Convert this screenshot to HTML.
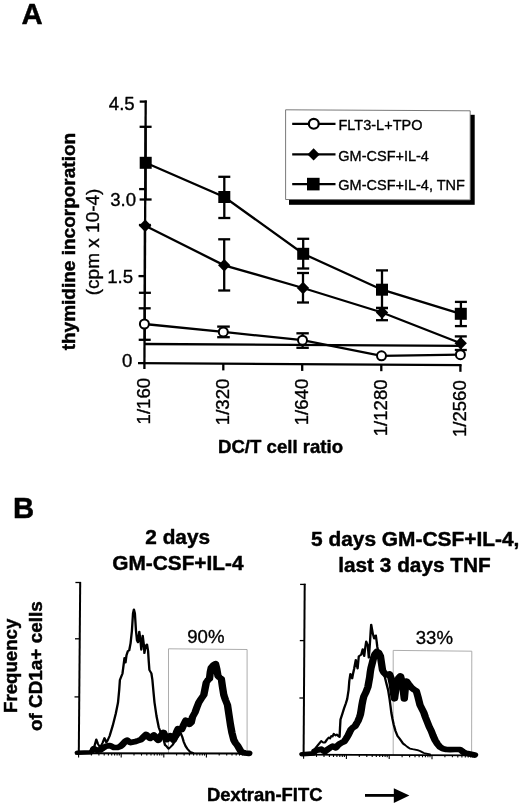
<!DOCTYPE html>
<html lang="en"><head><meta charset="utf-8"><title>Figure</title>
<style>html,body{margin:0;padding:0;background:#fff;}body{width:520px;height:805px;overflow:hidden;}svg{display:block;filter:blur(0.35px);}text{font-family:"Liberation Sans", Arial, Helvetica, sans-serif;fill:#000;stroke:#000;stroke-width:0.35px;stroke-linejoin:round;}.b{font-weight:bold;stroke-width:0.45px;}</style></head><body>
<svg width="520" height="805" viewBox="0 0 520 805">
<rect width="520" height="805" fill="#fff"/>
<text class="b" x="21.5" y="24.3" font-size="29.3">A</text>
<g stroke="#000" stroke-width="2.3" fill="none" stroke-linecap="butt">
<line x1="145.7" y1="100.5" x2="144.4" y2="369"/>
<line x1="138" y1="363.2" x2="461.6" y2="365.2"/>
<line x1="139.7" y1="101.6" x2="146.7" y2="101.6"/>
<line x1="139.1" y1="189.1" x2="146.1" y2="189.1"/>
<line x1="138.5" y1="276.1" x2="145.5" y2="276.1"/>
<line x1="223.3" y1="363.7" x2="223.3" y2="370.4"/>
<line x1="302.2" y1="364.1" x2="302.2" y2="370.9"/>
<line x1="381.3" y1="364.7" x2="381.3" y2="371.2"/>
<line x1="460.4" y1="365.2" x2="460.4" y2="371.8"/>
<line x1="144.4" y1="344" x2="461" y2="345.8"/>
<line x1="145.6" y1="126.8" x2="145.6" y2="199.5"/>
<line x1="139.6" y1="126.8" x2="151.6" y2="126.8"/>
<line x1="139.6" y1="199.5" x2="151.6" y2="199.5"/>
<line x1="224.3" y1="176.8" x2="224.3" y2="218"/>
<line x1="218.3" y1="176.8" x2="230.3" y2="176.8"/>
<line x1="218.3" y1="218" x2="230.3" y2="218"/>
<line x1="303.2" y1="238.8" x2="303.2" y2="268.5"/>
<line x1="297.2" y1="238.8" x2="309.2" y2="238.8"/>
<line x1="297.2" y1="268.5" x2="309.2" y2="268.5"/>
<line x1="382" y1="270.4" x2="382" y2="308"/>
<line x1="376" y1="270.4" x2="388" y2="270.4"/>
<line x1="376" y1="308" x2="388" y2="308"/>
<line x1="460.9" y1="301.9" x2="460.9" y2="326.1"/>
<line x1="454.9" y1="301.9" x2="466.9" y2="301.9"/>
<line x1="454.9" y1="326.1" x2="466.9" y2="326.1"/>
<line x1="144.9" y1="225" x2="144.9" y2="292.8"/>
<line x1="138.9" y1="225" x2="150.9" y2="225"/>
<line x1="138.9" y1="292.8" x2="150.9" y2="292.8"/>
<line x1="224.2" y1="239.3" x2="224.2" y2="290.5"/>
<line x1="218.2" y1="239.3" x2="230.2" y2="239.3"/>
<line x1="218.2" y1="290.5" x2="230.2" y2="290.5"/>
<line x1="303" y1="273" x2="303" y2="302.5"/>
<line x1="297" y1="273" x2="309" y2="273"/>
<line x1="297" y1="302.5" x2="309" y2="302.5"/>
<line x1="382" y1="308" x2="382" y2="320.2"/>
<line x1="376" y1="308" x2="388" y2="308"/>
<line x1="376" y1="320.2" x2="388" y2="320.2"/>
<line x1="460.8" y1="336.4" x2="460.8" y2="350"/>
<line x1="454.8" y1="336.4" x2="466.8" y2="336.4"/>
<line x1="454.8" y1="350" x2="466.8" y2="350"/>
<line x1="144.7" y1="308.3" x2="144.7" y2="339.8"/>
<line x1="138.7" y1="308.3" x2="150.7" y2="308.3"/>
<line x1="138.7" y1="339.8" x2="150.7" y2="339.8"/>
<line x1="223.5" y1="326.6" x2="223.5" y2="337.2"/>
<line x1="217.2" y1="326.6" x2="229.8" y2="326.6"/>
<line x1="217.2" y1="337.2" x2="229.8" y2="337.2"/>
<line x1="302.6" y1="333.3" x2="302.6" y2="347.8"/>
<line x1="296.40000000000003" y1="333.3" x2="308.8" y2="333.3"/>
<line x1="296.40000000000003" y1="347.8" x2="308.8" y2="347.8"/>
<polyline points="145.7,162.8 224.3,197.0 303.2,253.8 382.0,289.7 460.8,313.8"/>
<polyline points="145.2,225.8 224.2,265.3 303.0,288.0 382.0,312.5 460.7,343.3"/>
<polyline points="144.4,324.0 223.3,331.9 302.5,340.2 381.5,355.8 460.4,354.7"/>
</g>
<rect x="139.7" y="156.8" width="12" height="12" fill="#000"/>
<rect x="218.3" y="191" width="12" height="12" fill="#000"/>
<rect x="297.2" y="247.8" width="12" height="12" fill="#000"/>
<rect x="376" y="283.7" width="12" height="12" fill="#000"/>
<rect x="454.8" y="307.8" width="12" height="12" fill="#000"/>
<polygon points="139.0,225.8 145.2,219.60000000000002 151.39999999999998,225.8 145.2,232.0" fill="#000"/>
<polygon points="218.0,265.3 224.2,259.1 230.39999999999998,265.3 224.2,271.5" fill="#000"/>
<polygon points="296.8,288 303,281.8 309.2,288 303,294.2" fill="#000"/>
<polygon points="375.8,312.5 382,306.3 388.2,312.5 382,318.7" fill="#000"/>
<polygon points="454.5,343.3 460.7,337.1 466.9,343.3 460.7,349.5" fill="#000"/>
<circle cx="144.4" cy="324" r="4.5" fill="#fff" stroke="#000" stroke-width="2"/>
<circle cx="223.3" cy="331.9" r="4.5" fill="#fff" stroke="#000" stroke-width="2"/>
<circle cx="302.5" cy="340.2" r="4.5" fill="#fff" stroke="#000" stroke-width="2"/>
<circle cx="381.5" cy="355.8" r="4.5" fill="#fff" stroke="#000" stroke-width="2"/>
<circle cx="460.4" cy="354.7" r="4.5" fill="#fff" stroke="#000" stroke-width="2"/>
<text x="134.7" y="109.9" font-size="18.6" text-anchor="end">4.5</text>
<text x="136" y="205.7" font-size="18.6" text-anchor="end">3.0</text>
<text x="133.1" y="283" font-size="18.6" text-anchor="end">1.5</text>
<text x="132.3" y="367.3" font-size="18.6" text-anchor="end">0</text>
<text transform="translate(149.9,424.4) rotate(-90)" font-size="18.6">1/160</text>
<text transform="translate(228.9,425.2) rotate(-90)" font-size="18.6">1/320</text>
<text transform="translate(308.1,425.3) rotate(-90)" font-size="18.6">1/640</text>
<text transform="translate(386.8,436.3) rotate(-90)" font-size="18.6">1/1280</text>
<text transform="translate(466.2,437.1) rotate(-90)" font-size="18.6">1/2560</text>
<text class="b" x="218" y="452.6" font-size="18.6">DC/T cell ratio</text>
<text class="b" transform="translate(75.4,241.6) rotate(-90)" font-size="19" text-anchor="middle">thymidine incorporation</text>
<text transform="translate(99.3,241.9) rotate(-90)" font-size="19" text-anchor="middle">(cpm x 10-4)</text>
<rect x="289" y="114.8" width="185.7" height="90" fill="#000"/>
<polygon points="285.6,109.8 470.2,110.8 470.2,199.9 285.6,199.5" fill="#fff" stroke="#6a6a6a" stroke-width="0.9"/>
<g stroke="#000" stroke-width="2.3">
<line x1="292.2" y1="123.8" x2="335.5" y2="123.8"/>
<line x1="292.2" y1="154.4" x2="335.5" y2="154.4"/>
<line x1="292.2" y1="184.2" x2="335.5" y2="184.2"/>
</g>
<circle cx="313.8" cy="123.8" r="4.95" fill="#fff" stroke="#000" stroke-width="2.2"/>
<polygon points="307.5,154.4 313.6,148.3 319.7,154.4 313.6,160.5" fill="#000"/>
<rect x="307" y="177.8" width="12.6" height="12.6" fill="#000"/>
<text x="338.5" y="130.3" font-size="14.5">FLT3-L+TPO</text>
<text x="338.3" y="160.7" font-size="14.5">GM-CSF+IL-4</text>
<text x="338.3" y="190.4" font-size="14.5">GM-CSF+IL-4, TNF</text>
<text class="b" x="13" y="518.3" font-size="29.3">B</text>
<text class="b" x="177.7" y="544" font-size="20.8" text-anchor="middle">2 days</text>
<text class="b" x="177.9" y="570.3" font-size="20.8" text-anchor="middle">GM-CSF+IL-4</text>
<text class="b" x="415.2" y="546" font-size="20.9" text-anchor="middle">5 days GM-CSF+IL-4,</text>
<text class="b" x="414.5" y="572.3" font-size="20.8" text-anchor="middle">last 3 days TNF</text>
<text class="b" transform="translate(17.2,665.8) rotate(-90)" font-size="18.65" text-anchor="middle">Frequency</text>
<text class="b" transform="translate(41.8,666.2) rotate(-90)" font-size="18.9" text-anchor="middle">of CD1a+ cells</text>
<text x="205.9" y="643.1" font-size="18.6" text-anchor="middle">90%</text>
<text x="434.4" y="643.9" font-size="18.6" text-anchor="middle">33%</text>
<text class="b" x="207" y="800.7" font-size="18.4">Dextran-FITC</text>
<line x1="365" y1="795.4" x2="396" y2="795.4" stroke="#000" stroke-width="2.8"/>
<polygon points="393.8,788.2 409.4,795.5 393.8,803" fill="#000"/>
<g fill="none" stroke="#a4a4a4" stroke-width="0.9">
<polyline points="168.5,753 168.5,648.8 247.1,649.5 247.1,753"/>
<polyline points="393.2,754.5 393.2,650.4 471.8,651.2 471.6,755"/>
</g>
<g fill="none" stroke="#000" stroke-width="2">
<line x1="80.2" y1="581.9" x2="78.8" y2="753"/>
<line x1="304.7" y1="583.8" x2="303.6" y2="754.5"/>
</g>
<g fill="none" stroke="#000" stroke-width="1.3">
<line x1="75.4" y1="582.5" x2="81" y2="582.5"/>
<line x1="75" y1="638.8" x2="79.6" y2="638.8"/>
<line x1="74.5" y1="696.9" x2="79" y2="696.9"/>
<line x1="75" y1="753.2" x2="250.4" y2="753.5" stroke-width="1.9"/>
<line x1="300.1" y1="584.4" x2="305.5" y2="584.4"/>
<line x1="299.8" y1="640.6" x2="304.4" y2="640.6"/>
<line x1="299.4" y1="698" x2="304" y2="698"/>
<line x1="300" y1="754.6" x2="476" y2="755.4" stroke-width="1.9"/>
</g>
<g stroke="#000" stroke-width="1.1">
<line x1="78.6" y1="753.3" x2="78.6" y2="757.5"/>
<line x1="91.4" y1="753.3" x2="91.4" y2="755.6"/>
<line x1="98.9" y1="753.3" x2="98.9" y2="755.6"/>
<line x1="104.2" y1="753.3" x2="104.2" y2="755.6"/>
<line x1="108.4" y1="753.3" x2="108.4" y2="755.6"/>
<line x1="111.7" y1="753.3" x2="111.7" y2="755.6"/>
<line x1="114.6" y1="753.3" x2="114.6" y2="755.6"/>
<line x1="117.1" y1="753.3" x2="117.1" y2="755.6"/>
<line x1="119.3" y1="753.3" x2="119.3" y2="755.6"/>
<line x1="121.2" y1="753.3" x2="121.2" y2="757.5"/>
<line x1="134.0" y1="753.3" x2="134.0" y2="755.6"/>
<line x1="141.5" y1="753.3" x2="141.5" y2="755.6"/>
<line x1="146.8" y1="753.3" x2="146.8" y2="755.6"/>
<line x1="151.0" y1="753.3" x2="151.0" y2="755.6"/>
<line x1="154.3" y1="753.3" x2="154.3" y2="755.6"/>
<line x1="157.2" y1="753.3" x2="157.2" y2="755.6"/>
<line x1="159.7" y1="753.3" x2="159.7" y2="755.6"/>
<line x1="161.9" y1="753.3" x2="161.9" y2="755.6"/>
<line x1="163.8" y1="753.3" x2="163.8" y2="757.5"/>
<line x1="176.6" y1="753.3" x2="176.6" y2="755.6"/>
<line x1="184.1" y1="753.3" x2="184.1" y2="755.6"/>
<line x1="189.4" y1="753.3" x2="189.4" y2="755.6"/>
<line x1="193.6" y1="753.3" x2="193.6" y2="755.6"/>
<line x1="196.9" y1="753.3" x2="196.9" y2="755.6"/>
<line x1="199.8" y1="753.3" x2="199.8" y2="755.6"/>
<line x1="202.3" y1="753.3" x2="202.3" y2="755.6"/>
<line x1="204.5" y1="753.3" x2="204.5" y2="755.6"/>
<line x1="206.4" y1="753.3" x2="206.4" y2="757.5"/>
<line x1="219.2" y1="753.3" x2="219.2" y2="755.6"/>
<line x1="226.7" y1="753.3" x2="226.7" y2="755.6"/>
<line x1="232.0" y1="753.3" x2="232.0" y2="755.6"/>
<line x1="236.2" y1="753.3" x2="236.2" y2="755.6"/>
<line x1="239.5" y1="753.3" x2="239.5" y2="755.6"/>
<line x1="242.4" y1="753.3" x2="242.4" y2="755.6"/>
<line x1="244.9" y1="753.3" x2="244.9" y2="755.6"/>
<line x1="247.1" y1="753.3" x2="247.1" y2="755.6"/>
<line x1="303.6" y1="754.6" x2="303.6" y2="758.8"/>
<line x1="316.5" y1="754.6" x2="316.5" y2="756.9"/>
<line x1="324.0" y1="754.7" x2="324.0" y2="757.0"/>
<line x1="329.4" y1="754.7" x2="329.4" y2="757.0"/>
<line x1="333.5" y1="754.7" x2="333.5" y2="757.0"/>
<line x1="336.9" y1="754.7" x2="336.9" y2="757.0"/>
<line x1="339.8" y1="754.7" x2="339.8" y2="757.0"/>
<line x1="342.3" y1="754.7" x2="342.3" y2="757.0"/>
<line x1="344.4" y1="754.7" x2="344.4" y2="757.0"/>
<line x1="346.4" y1="754.7" x2="346.4" y2="758.9"/>
<line x1="359.3" y1="754.8" x2="359.3" y2="757.1"/>
<line x1="366.8" y1="754.8" x2="366.8" y2="757.1"/>
<line x1="372.2" y1="754.8" x2="372.2" y2="757.1"/>
<line x1="376.3" y1="754.8" x2="376.3" y2="757.1"/>
<line x1="379.7" y1="754.8" x2="379.7" y2="757.1"/>
<line x1="382.6" y1="754.8" x2="382.6" y2="757.1"/>
<line x1="385.1" y1="754.8" x2="385.1" y2="757.1"/>
<line x1="387.2" y1="754.9" x2="387.2" y2="757.2"/>
<line x1="389.2" y1="754.9" x2="389.2" y2="759.1"/>
<line x1="402.1" y1="754.9" x2="402.1" y2="757.2"/>
<line x1="409.6" y1="754.9" x2="409.6" y2="757.2"/>
<line x1="415.0" y1="754.9" x2="415.0" y2="757.2"/>
<line x1="419.1" y1="754.9" x2="419.1" y2="757.2"/>
<line x1="422.5" y1="755.0" x2="422.5" y2="757.3"/>
<line x1="425.4" y1="755.0" x2="425.4" y2="757.3"/>
<line x1="427.9" y1="755.0" x2="427.9" y2="757.3"/>
<line x1="430.0" y1="755.0" x2="430.0" y2="757.3"/>
<line x1="432.0" y1="755.0" x2="432.0" y2="759.2"/>
<line x1="444.9" y1="755.0" x2="444.9" y2="757.3"/>
<line x1="452.4" y1="755.0" x2="452.4" y2="757.3"/>
<line x1="457.8" y1="755.1" x2="457.8" y2="757.4"/>
<line x1="461.9" y1="755.1" x2="461.9" y2="757.4"/>
<line x1="465.3" y1="755.1" x2="465.3" y2="757.4"/>
<line x1="468.2" y1="755.1" x2="468.2" y2="757.4"/>
<line x1="470.7" y1="755.1" x2="470.7" y2="757.4"/>
<line x1="472.8" y1="755.1" x2="472.8" y2="757.4"/>
</g>
<g fill="none" stroke="#000" stroke-linejoin="round" stroke-linecap="round" transform="scale(1.3,1)">
<polyline stroke-width="1.8" points="58.46,753.0 71.15,752.5 72.69,746.0 74.08,739.5 75.38,744.0 76.92,747.5 78.85,743.0 80.38,738.0 81.77,742.5 82.92,740.0 84.31,736.0 86.69,725.8 89.08,713.5 90.77,702.7 91.69,690.0 92.23,680.0 94.23,673.4 95.23,663.3 95.77,657.9 96.54,662.6 97.31,655.2 98.38,651.1 99.38,650.5 100.46,643.1 101.46,631.0 102.31,613.5 103.00,609.4 103.77,613.5 104.62,631.0 105.38,640.4 106.15,642.4 107.15,631.6 107.92,639.0 108.69,649.8 109.77,635.7 110.62,644.4 111.08,653.2 112.00,645.8 113.08,644.4 113.92,651.1 114.38,660.6 114.92,670.0 116.46,673.4 117.23,680.0 118.00,691.0 118.85,702.5 120.38,716.0 122.15,727.5 123.46,732.0 125.00,735.0 126.92,745.0 127.92,746.0 129.62,748.8 131.15,747.0 132.69,745.0 134.62,741.0 136.54,737.5 138.92,732.8 140.23,737.0 141.38,742.0 142.69,746.0 144.23,749.0 146.15,751.8 148.46,752.8"/>
<polyline stroke-width="1.8" points="231.54,754.5 240.38,754.0 242.31,748.8 244.62,745.0 247.15,741.0 248.46,742.5 250.00,742.5 251.54,739.5 252.92,737.5 253.85,738.5 254.85,736.0 255.77,736.5 256.77,733.8 258.08,735.5 259.23,734.5 260.15,736.0 261.23,737.0 261.54,728.0 261.92,719.5 263.31,714.0 264.62,708.5 266.00,703.5 267.08,699.0 268.15,690.0 268.69,681.0 269.54,673.8 270.23,676.5 270.92,678.5 271.69,673.0 272.46,668.5 273.69,660.0 274.38,664.5 275.08,668.5 276.00,656.2 276.92,655.6 277.85,654.6 279.00,649.2 279.62,653.0 280.15,656.2 280.92,648.0 281.69,641.5 282.92,645.4 283.69,657.7 284.23,649.0 284.69,640.8 285.15,631.0 285.54,624.6 286.15,629.0 286.69,633.1 287.31,636.0 287.85,638.5 288.46,636.5 289.08,635.4 289.69,641.0 290.23,646.9 291.54,655.0 293.08,664.0 294.62,671.0 295.54,674.6 297.15,683.0 298.54,690.0 299.69,699.2 300.38,706.0 301.00,712.5 301.92,719.0 302.92,725.0 304.23,731.0 305.77,736.0 307.31,738.5 308.69,741.0 310.00,743.5 311.54,745.0 313.46,747.0 315.38,748.6 317.31,749.2 319.23,749.6 321.15,750.2 323.08,751.0 326.00,753.0 330.77,754.3"/>
<polyline stroke-width="4.6" points="59.69,752.8 70.00,752.3 72.15,748.8"/>
<polyline stroke-width="5.7" points="72.15,748.8 74.62,750.2 76.92,750.0 79.23,748.0 81.54,746.3 84.62,745.5 87.54,747.5 90.38,747.5 92.46,746.5 93.85,745.0 95.15,743.2 96.54,741.3 97.77,740.3 99.08,741.7 100.46,742.6 102.31,742.0 104.46,741.4 106.54,740.5 108.46,739.6 110.38,737.0 112.38,734.4 113.85,736.5 115.46,738.3 116.92,736.5 118.38,735.1 120.00,738.0 121.77,740.3 123.69,736.0 125.69,732.4 127.08,736.0 128.38,739.6 129.69,737.5 131.08,735.7 132.31,738.0 133.46,740.0 134.31,737.0 135.08,734.8 136.00,731.5 137.00,728.7 138.31,729.3 139.69,729.6 141.38,724.5 143.00,720.3 144.31,722.5 145.69,724.2 147.08,722.5 148.08,717.0 150.00,712.5 151.54,707.0 152.92,702.5 154.62,699.0 156.77,695.0 157.69,689.0 158.69,682.5 160.00,680.0 161.15,678.8 161.77,672.0 162.54,667.5 164.23,665.0 165.77,663.8 166.77,669.0 167.69,676.0 168.85,677.5 170.23,678.8 171.15,687.0 172.15,695.0 173.46,700.0 175.00,705.0 176.15,715.0 177.31,725.0 178.46,733.0 179.85,740.0 181.15,743.0 182.69,745.5 184.23,749.0 185.62,752.0 188.46,753.0 191.38,753.3"/>
<polyline stroke-width="4.6" points="232.46,754.3 241.38,753.4 242.31,751.0"/>
<polyline stroke-width="5.7" points="242.31,751.0 244.62,750.0 247.08,749.2 248.46,750.5 250.00,751.5 251.15,750.3 252.38,749.2 254.23,747.5 255.92,746.2 257.15,747.0 258.31,747.7 259.77,745.5 261.23,743.8 263.08,742.5 264.77,741.5 266.31,738.5 267.77,735.4 269.00,732.0 270.15,729.2 271.54,727.5 273.08,726.2 274.31,723.5 275.46,720.8 276.46,717.5 277.23,714.6 277.85,710.0 278.38,705.4 279.08,700.5 279.85,696.5 281.54,692.0 283.00,687.0 283.69,682.0 284.31,677.7 284.85,672.0 285.38,668.0 286.38,663.0 287.31,658.0 288.46,654.0 290.00,651.6 291.23,652.5 292.62,656.0 293.31,662.0 294.23,670.0 295.23,672.5 297.15,675.0 298.46,675.0 299.62,674.0 300.77,678.0 301.77,684.0 302.54,692.0 303.46,698.8 304.38,690.0 305.38,681.5 306.69,678.0 308.08,676.0 309.08,681.0 310.00,687.5 310.54,694.0 311.00,698.8 311.69,689.0 312.54,681.0 314.23,684.0 316.38,687.5 318.31,689.5 320.23,691.0 321.54,697.0 323.08,705.0 324.62,709.0 326.00,712.5 327.31,717.5 328.85,722.5 330.23,727.0 331.77,731.0 333.08,735.5 334.62,740.0 336.54,744.0 338.46,747.0 340.77,748.8 343.31,749.5 346.15,749.6 350.00,749.5 353.85,749.5 355.38,751.0 356.77,752.5 358.46,753.2 360.62,753.8 365.00,755.0"/>
</g>
</svg></body></html>
